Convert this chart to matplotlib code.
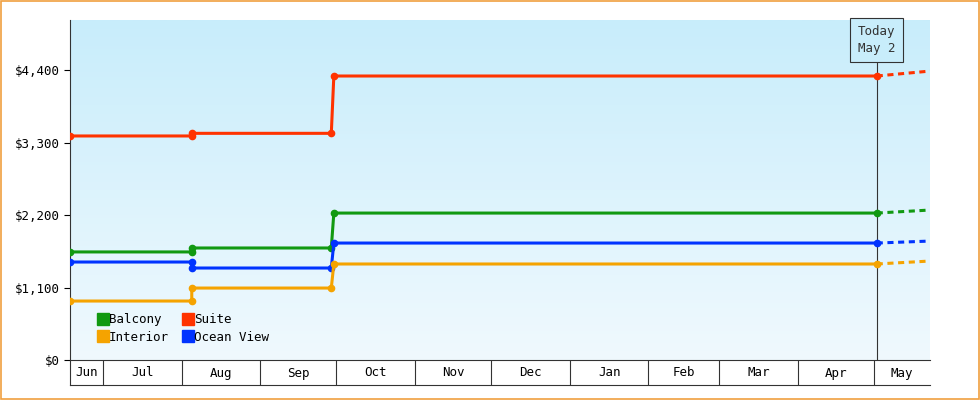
import matplotlib
matplotlib.use("Agg")
import matplotlib.pyplot as plt
import matplotlib.dates as mdates
import numpy as np
from datetime import date

plt.rcParams['font.family'] = ['DejaVu Sans Mono']

dates = [date(2024,6,18), date(2024,8,5), date(2024,8,5), date(2024,9,29), date(2024,9,30), date(2025,5,2)]
proj_date = date(2025,5,23)
series = {
    "Suite":      ([3400,3400,3440,3440,4310,4310], 4385, "#ff3300"),
    "Balcony":    ([1640,1640,1700,1700,2230,2230], 2276, "#119911"),
    "Ocean View": ([1487,1487,1396,1396,1775,1775], 1805, "#0033ff"),
    "Interior":   ([895,895,1092,1092,1457,1457], 1502, "#f5a300"),
}
legend_order = ["Balcony", "Interior", "Suite", "Ocean View"]
yticks = [0,1100,2200,3300,4400]
month_starts = [date(2024,m,1) for m in range(7,13)] + [date(2025,m,1) for m in range(1,6)]
month_labels = ["Jun","Jul","Aug","Sep","Oct","Nov","Dec","Jan","Feb","Mar","Apr","May"]
xmin, xmax = date(2024,6,18), date(2025,5,23)
today = date(2025,5,2)

fig = plt.figure(figsize=(9.8,4), dpi=100)
fig.patch.set_facecolor("white")
fig.patches.append(plt.Rectangle((0.001,0.002),0.998,0.996, transform=fig.transFigure,
                                 fill=False, edgecolor="#f0a040", lw=1.2))
ax = fig.add_axes([70/980, 40/400, 860/980, 340/400])
ax.set_xlim(mdates.date2num(xmin), mdates.date2num(xmax))
ax.set_ylim(0, 5160)
grad = np.linspace(0,1,256).reshape(-1,1)
from matplotlib.colors import LinearSegmentedColormap
cm = LinearSegmentedColormap.from_list("g", ["#f0f9fe", "#c8edfb"])
ax.imshow(grad, aspect="auto", cmap=cm, origin="lower",
          extent=[*ax.get_xlim(), 0, 5160], zorder=0)

handles = {}
for name, (vals, proj, col) in series.items():
    xd = mdates.date2num(dates)
    ax.plot(xd, vals, color=col, lw=2.2, marker="o", ms=4.5, zorder=3)
    ax.plot([xd[-1], mdates.date2num(proj_date)], [vals[-1], proj], color=col, lw=2.2, ls=(0,(2,1.5)), zorder=3)
    handles[name] = plt.Line2D([],[],color=col, marker="s", ls="", ms=8)

ax.axvline(mdates.date2num(today), color="#333333", lw=0.8, zorder=2)
ax.text(mdates.date2num(today), 5160-80, "Today\nMay 2", ha="center", va="top", fontsize=9, color="#333",
        linespacing=1.35,
        bbox=dict(boxstyle="square,pad=0.6", fc="#c8edfb", ec="#333", lw=0.8), zorder=4)

ax.legend([handles[n] for n in legend_order], legend_order, ncol=2, loc="lower left",
          bbox_to_anchor=(0.018,0.015), frameon=False, handletextpad=0.0, columnspacing=1.0,
          labelspacing=0.35, fontsize=9, handlelength=1)

ax.set_yticks(yticks)
ax.set_yticklabels([f"${v:,}" for v in yticks], fontsize=9)
ax.tick_params(axis="y", length=4)
for s in ["top","right"]:
    ax.spines[s].set_visible(False)
ax.spines["left"].set_color("#333"); ax.spines["bottom"].set_color("#333")

ms = mdates.date2num(month_starts)
ax.set_xticks(ms)
ax.set_xticklabels([])
ax.tick_params(axis="x", length=18, color="#333")
bounds = [mdates.date2num(xmin)] + list(ms) + [mdates.date2num(xmax)]
for i, lab in enumerate(month_labels):
    c = (bounds[i]+bounds[i+1])/2
    ax.text(c, -13/340, lab, transform=ax.get_xaxis_transform(), ha="center", va="center", fontsize=9)
ax.plot([0,1],[-25/340,-25/340], transform=ax.transAxes, color="#333", lw=0.8, clip_on=False)
ax.plot([0,0],[0,-25/340], transform=ax.transAxes, color="#333", lw=0.8, clip_on=False)

fig.savefig("out.png", dpi=100)
